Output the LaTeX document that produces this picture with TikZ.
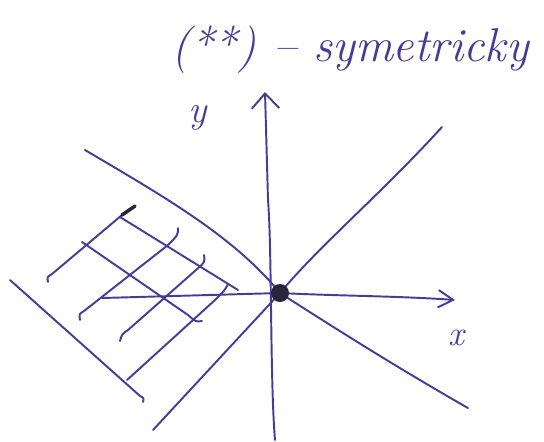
\documentclass[tikz,border=0pt]{standalone}
\usepackage{tikz}
\usetikzlibrary{arrows.meta}
\definecolor{penBlue}{RGB}{74,58,152}
\definecolor{penDark}{RGB}{40,36,58}

\begin{document}
\begin{tikzpicture}[x=0.02cm, y=-0.02cm, >=Latex]
\tikzstyle{pen}=[draw=penBlue, line width=1.1pt, line cap=round, line join=round]
\tikzstyle{hand}=[text=penBlue, inner sep=0pt]
\useasboundingbox (0,0) rectangle (544,441);

% title and axis labels
\node[hand, font=\fontsize{27}{29}\selectfont\itshape] (title) at (350,50) {(**) -- symetricky};
\node[hand, font=\fontsize{22}{24}\selectfont\itshape] (ylab) at (198,118) {y};
\node[hand, font=\fontsize{20}{22}\selectfont\itshape] (xlab) at (456,338) {x};

% origin and axes
\coordinate (O) at (280,293);
\coordinate (ytop) at (265,92);
\coordinate (ybot) at (275,440);
\coordinate (xleft) at (102,298);
\coordinate (xright) at (455,300);
\draw[pen, -{Straight Barb[length=3mm, width=5.5mm]}] (ybot) .. controls (270,380) and (272,250) .. (268,200) -- (ytop);
\draw[pen, -{Straight Barb[length=3mm, width=3.5mm]}] (xleft) -- (O) .. controls (340,296) and (400,296) .. (xright);

% the two diagonal lines through the origin
\draw[pen] (153,430) -- (O) .. controls (320,245) and (380,195) .. (442,127);
\draw[pen] (85,150) .. controls (170,200) and (235,238) .. (O) .. controls (350,338) and (410,375) .. (468,408);

% grid on the left
\draw[pen] (10,280) -- (140,396) .. controls (144,398) .. (143,402);
\draw[pen] (48,282) .. controls (47,277) .. (52,274) -- (122,215);
\draw[pen, line width=2pt, penDark] (122,215) -- (135,206);
\draw[pen] (80,320) .. controls (79,314) .. (84,311) -- (168,245) .. controls (178,235) .. (178,228);
\draw[pen] (120,341) .. controls (122,334) .. (128,330) -- (196,270) .. controls (205,262) .. (204,255);
\draw[pen] (127,380) -- (215,300) .. controls (225,290) .. (228,284);
\draw[pen] (120,217) -- (238,290);
\draw[pen] (82,242) -- (188,315) .. controls (196,322) .. (202,321);

\fill[penDark] (O) circle (9);
\end{tikzpicture}
\end{document}
